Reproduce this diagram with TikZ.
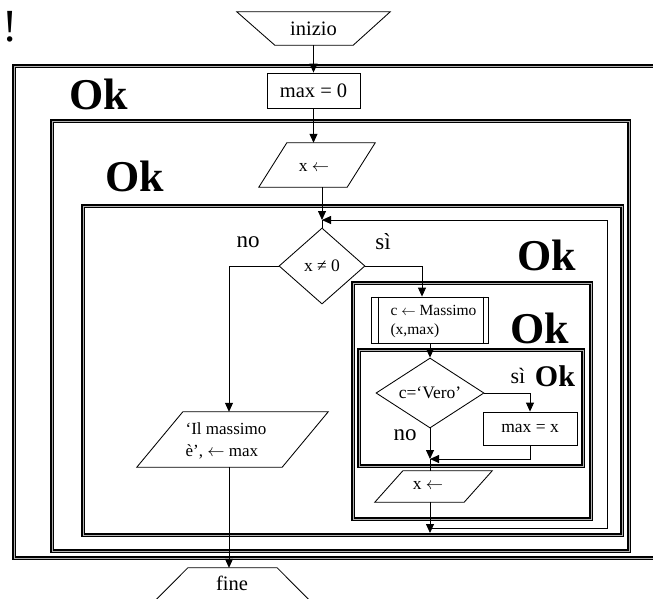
\documentclass[tikz,border=0pt]{standalone}
\usepackage{fontspec}
\setmainfont{Liberation Serif}
\usetikzlibrary{arrows.meta,shapes.geometric}
\newcommand{\getarrow}{\ensuremath{\leftarrow}}
\tikzset{
  frame/.style={draw=black, line width=1.1pt, double=gray!60, double distance=0.9pt},
  conn/.style={draw=black, line width=0.85pt},
  arr/.style={conn, -{Triangle[length=9pt,width=8pt]}},
  shapeline/.style={draw=black, line width=0.85pt},
  anch/.style={draw=none, inner sep=0pt, rectangle},
  okbig/.style={font=\bfseries\fontsize{44}{48}\selectfont, inner sep=0pt},
  oksmall/.style={font=\bfseries\fontsize{30}{34}\selectfont, inner sep=0pt},
  lab/.style={font=\fontsize{23}{26}\selectfont, inner sep=0pt},
  tl/.style={font=\fontsize{20.5}{24}\selectfont},
  ts/.style={font=\fontsize{17.5}{20}\selectfont},
}
\begin{document}
\begin{tikzpicture}[x=1pt,y=-1pt]
\useasboundingbox (0,0) rectangle (653,598);

% nested block frames
\draw[frame] (14,66) rectangle (670,558);
\draw[frame] (52,121) rectangle (629,551);
\draw[frame] (83,206) rectangle (622,535);
\draw[frame] (353,283) rectangle (591,519);
\draw[frame] (359,350) rectangle (583,466);

% block labels
\node[okbig] (ok1) at (99,94) {Ok};
\node[okbig] (ok2) at (135,176) {Ok};
\node[okbig] (ok3) at (547,255) {Ok};
\node[okbig] (ok4) at (540,328) {Ok};
\node[oksmall] (ok5) at (555,376) {Ok};
\node[font=\fontsize{46}{50}\selectfont, inner sep=0pt] (bang) at (10,27) {!};

% start terminal
\node[anch, minimum width=153pt, minimum height=33pt, tl] (start) at (313.5,28.5) {inizio};
\draw[shapeline] (start.north west) -- (start.north east) -- ([xshift=-37pt]start.south east) -- ([xshift=38pt]start.south west) -- cycle;

% max = 0
\node[shapeline, rectangle, minimum width=93pt, minimum height=35pt, inner sep=0pt, tl] (max0) at (313.5,90.5) {max = 0};

% first input
\node[anch, minimum width=116pt, minimum height=44pt, ts] (in1) at (317,165) {};
\draw[shapeline] ([xshift=28pt]in1.north west) -- (in1.north east) -- ([xshift=-28pt]in1.south east) -- (in1.south west) -- cycle;
\node[ts, inner sep=0pt] (in1txt) at (314,167) {x \getarrow};

% loop test
\node[diamond, aspect=1.13, shapeline, minimum width=86pt, minimum height=76pt, inner sep=0pt, ts] (d1) at (322,266) {x ≠ 0};
\node[lab] (no1) at (248,242) {no};
\node[lab] (si1) at (383,242) {sì};

% output
\node[anch, minimum width=191pt, minimum height=55pt] (out) at (232.5,439.5) {};
\draw[shapeline] ([xshift=46pt]out.north west) -- (out.north east) -- ([xshift=-46pt]out.south east) -- (out.south west) -- cycle;
\node[font=\fontsize{17}{22}\selectfont, align=left, inner sep=0pt] (outtxt) at (226,441) {‘Il massimo\\è’, \getarrow\ max};

% end terminal
\node[anch, minimum width=173pt, minimum height=84pt] (fin) at (232.5,610) {};
\draw[shapeline] ([xshift=42pt]fin.north west) -- ([xshift=-42pt]fin.north east) -- (fin.east) -- ([xshift=-42pt]fin.south east) -- ([xshift=42pt]fin.south west) -- (fin.west) -- cycle;
\node[tl, inner sep=0pt] (fintxt) at (232,583) {fine};

% subprogram call
\node[shapeline, rectangle, minimum width=117pt, minimum height=46pt, inner sep=0pt] (mass) at (430,320) {};
\draw[shapeline] ([xshift=7pt]mass.north west) -- ([xshift=7pt]mass.south west);
\draw[shapeline] ([xshift=-6pt]mass.north east) -- ([xshift=-6pt]mass.south east);
\node[font=\fontsize{15.5}{19}\selectfont, align=left, inner sep=0pt] (masstxt) at (433.5,322) {c \getarrow\ Massimo\\(x,max)};

% inner test
\node[diamond, aspect=1.54, shapeline, minimum width=108pt, minimum height=70pt, inner sep=0pt, ts] (d2) at (430,393) {c=‘Vero’};
\node[lab, font=\fontsize{22}{24}\selectfont] (si2) at (518,376) {sì};
\node[lab] (no2) at (405,435) {no};

% max = x
\node[shapeline, rectangle, minimum width=94pt, minimum height=33pt, inner sep=0pt, ts] (maxx) at (530,428.5) {max = x};

% second input
\node[anch, minimum width=117pt, minimum height=31pt, ts] (in2) at (433.5,486.5) {};
\draw[shapeline] ([xshift=28pt]in2.north west) -- (in2.north east) -- ([xshift=-28pt]in2.south east) -- (in2.south west) -- cycle;
\node[ts, inner sep=0pt] (in2txt) at (428,485) {x \getarrow};

% connectors
\coordinate (j1) at (322,220);
\coordinate (nob) at (229,266);
\coordinate (yb) at (422,266);
\coordinate (yb2) at (530,393);
\coordinate (j3) at (430,459);
\coordinate (j4) at (430,533);
\coordinate (lpa) at (430,528);
\coordinate (lpb) at (607,528);
\coordinate (lpc) at (607,220);

\draw[arr] (start.south) -- (max0.north);
\draw[arr] (max0.south) -- (max0.south |- in1.north);
\draw[arr] (j1 |- in1.south) -- (j1);
\draw[conn] (j1) -- (d1.north);
\draw[arr] (d1.west) -- (nob) -- (nob |- out.north);
\draw[arr] (nob |- out.south) -- (nob |- fin.north);
\draw[arr] (d1.east) -- (yb) -- (yb |- mass.north);
\draw[arr] (mass.south) -- (d2.north);
\draw[arr] (d2.east) -- (yb2) -- (maxx.north);
\draw[arr] (maxx.south) -- (maxx.south |- j3) -- (j3);
\draw[arr] (d2.south) -- (j3);
\draw[conn] (j3) -- (j3 |- in2.north);
\draw[arr] (j3 |- in2.south) -- (j4);
\draw[arr] (lpa) -- (lpb) -- (lpc) -- (j1);
\end{tikzpicture}
\end{document}
